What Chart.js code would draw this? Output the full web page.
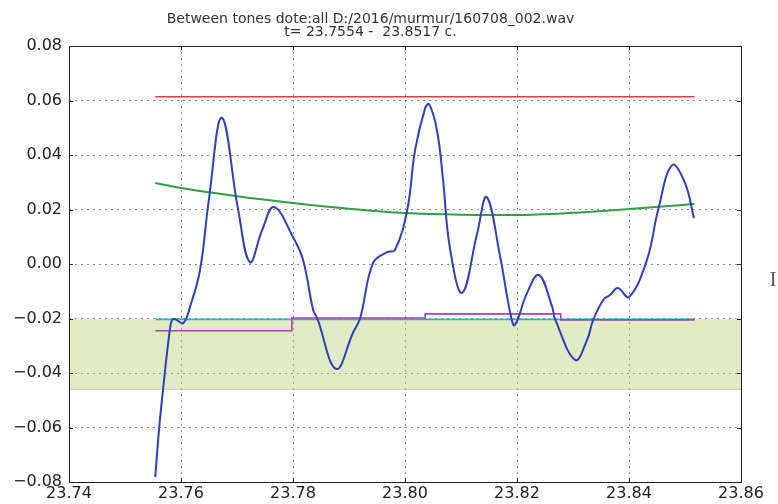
<!DOCTYPE html>
<html><head><meta charset="utf-8">
<script src="https://cdn.jsdelivr.net/npm/chart.js@4.4.1/dist/chart.umd.min.js"></script>
<style>html,body{margin:0;padding:0;background:#fff}#wrap{width:778px;height:504px}</style>
</head><body><div id="wrap"><canvas id="c" width="778" height="504"></canvas></div>
<script>
const titleLines = ["Between tones dote:all D:/2016/murmur/160708_002.wav", "t= 23.7554 -  23.8517 c."];
const xTicks = [23.74, 23.76, 23.78, 23.80, 23.82, 23.84, 23.86];
const xTickLabels = ["23.74", "23.76", "23.78", "23.80", "23.82", "23.84", "23.86"];
const yTicks = [-0.08, -0.06, -0.04, -0.02, 0.00, 0.02, 0.04, 0.06, 0.08];
const yTickLabels = ["\u22120.08", "\u22120.06", "\u22120.04", "\u22120.02", "0.00", "0.02", "0.04", "0.06", "0.08"];

// blue signal
const signalT = [23.7554,23.7561,23.7568,23.7580,23.7584,23.7589,23.7604,23.7616,23.7634,23.7650,23.7673,23.7702,23.7723,23.7745,23.7766,23.7800,23.7818,23.7836,23.7843,23.7877,23.7907,23.7920,23.7943,23.7968,23.7982,23.8004,23.8018,23.8036,23.8043,23.8057,23.8068,23.8080,23.8102,23.8129,23.8146,23.8170,23.8188,23.8196,23.8218,23.8239,23.8263,23.8268,23.8304,23.8325,23.8336,23.8354,23.8366,23.8380,23.8400,23.8432,23.8452,23.8477,23.8500,23.8516];
const signalV = [-0.0782,-0.0602,-0.0459,-0.0242,-0.0206,-0.0202,-0.0217,-0.0158,-0.0022,0.0240,0.0537,0.0200,0.0007,0.0125,0.0209,0.0099,0.0015,-0.0169,-0.0198,-0.0385,-0.0253,-0.0198,0.0004,0.0044,0.0051,0.0198,0.0418,0.0572,0.0587,0.0492,0.0308,0.0062,-0.0106,0.0114,0.0246,0.0026,-0.0180,-0.0224,-0.0106,-0.0040,-0.0158,-0.0202,-0.0352,-0.0279,-0.0206,-0.0132,-0.0114,-0.0088,-0.0121,0.0015,0.0198,0.0363,0.0297,0.0169];

// green trend
const trendT = [23.7554, 23.7600, 23.7700, 23.7800, 23.7900, 23.8000, 23.8100, 23.8200, 23.8300, 23.8400, 23.8517];
const trendV = [0.0297, 0.0279, 0.0249, 0.0224, 0.0203, 0.0187, 0.0181, 0.0180, 0.0188, 0.0202, 0.0220];

// red upper level
const redT = [23.7554, 23.8517];
const redV = [0.0614, 0.0614];

// cyan level
const cyanT = [23.7554, 23.8517];
const cyanV = [-0.0203, -0.0203];

// magenta stepped level
const stepT = [23.7554, 23.7798, 23.8036, 23.8278, 23.8517];
const stepV = [-0.0245, -0.0198, -0.0183, -0.0205, -0.0205];

// shaded band
const bandT = [23.74, 23.86];
const bandTop = [-0.0203, -0.0203];
const bandBottom = [-0.0460, -0.0460];

const pts = (xs, ys) => xs.map((x, i) => ({x: x, y: ys[i]}));

const frameTicks = {
  id: 'frameTicks',
  afterDatasetsDraw(chart) {
    const ctx = chart.ctx, a = chart.chartArea;
    const xs = chart.scales.x, ys = chart.scales.y;
    ctx.save();
    ctx.strokeStyle = '#222';
    ctx.lineWidth = 1;
    ctx.strokeRect(Math.round(a.left) + 0.5, Math.round(a.top) + 0.5, Math.round(a.right - a.left), Math.round(a.bottom - a.top));
    ctx.beginPath();
    xTicks.forEach(v => {
      const p = Math.round(xs.getPixelForValue(v)) + 0.5;
      ctx.moveTo(p, a.bottom); ctx.lineTo(p, a.bottom - 4);
      ctx.moveTo(p, a.top); ctx.lineTo(p, a.top + 4);
    });
    yTicks.forEach(v => {
      const p = Math.round(ys.getPixelForValue(v)) + 0.5;
      ctx.moveTo(a.left, p); ctx.lineTo(a.left + 4, p);
      ctx.moveTo(a.right, p); ctx.lineTo(a.right - 4, p);
    });
    ctx.stroke();
    ctx.fillStyle = '#555';
    ctx.font = '20px "Liberation Serif", serif';
    ctx.textAlign = 'center';
    ctx.textBaseline = 'middle';
    ctx.fillText('I', 773, 281);
    ctx.restore();
  }
};

new Chart(document.getElementById('c'), {
  type: 'scatter',
  data: {
    datasets: [
      {data: pts(signalT, signalV), showLine: true, borderColor: '#2f3fc2', borderWidth: 2, pointRadius: 0, tension: 0.4, order: 0},
      {data: pts(stepT, stepV), showLine: true, stepped: 'before', borderColor: '#b040b0', borderWidth: 1.6, pointRadius: 0, order: 1},
      {data: pts(cyanT, cyanV), showLine: true, borderColor: '#2bb8b3', borderWidth: 1.6, pointRadius: 0, order: 2},
      {data: pts(trendT, trendV), showLine: true, borderColor: '#2fa040', borderWidth: 2, pointRadius: 0, cubicInterpolationMode: 'monotone', order: 3},
      {data: pts(redT, redV), showLine: true, borderColor: '#e0403a', borderWidth: 1.6, pointRadius: 0, order: 4},
      {data: pts(bandT, bandTop), showLine: true, borderWidth: 0, borderColor: 'rgba(0,0,0,0)', pointRadius: 0, fill: '+1', backgroundColor: 'rgba(180,205,112,0.42)', order: 5},
      {data: pts(bandT, bandBottom), showLine: true, borderWidth: 1, borderColor: 'rgba(160,175,140,0.6)', pointRadius: 0, order: 6}
    ]
  },
  options: {
    responsive: false,
    animation: false,
    layout: {padding: {top: 0, right: 37, left: 0, bottom: 0}},
    plugins: {
      legend: {display: false},
      tooltip: {enabled: false},
      title: {display: true, text: titleLines, color: '#333', font: {family: '"DejaVu Sans", sans-serif', size: 14, weight: 'normal', lineHeight: 0.93}, padding: {top: 12.5, bottom: 7.5}}
    },
    scales: {
      x: {
        type: 'linear', min: 23.74, max: 23.86,
        afterBuildTicks: s => { s.ticks = xTicks.map(v => ({value: v})); },
        afterFit: s => { s.height = 22; },
        ticks: {color: '#222', font: {family: '"DejaVu Sans", sans-serif', size: 16}, padding: 2, maxRotation: 0, autoSkip: false,
          callback: (v, i) => xTickLabels[i]},
        grid: {color: 'rgba(60,60,60,0.6)', lineWidth: 1, drawTicks: false},
        border: {display: false, dash: [2, 4]}
      },
      y: {
        type: 'linear', min: -0.08, max: 0.08,
        afterBuildTicks: s => { s.ticks = yTicks.map(v => ({value: v})); },
        afterFit: s => { s.width = 69; },
        ticks: {color: '#222', font: {family: '"DejaVu Sans", sans-serif', size: 16}, padding: 7, autoSkip: false,
          callback: (v, i) => yTickLabels[i]},
        grid: {color: 'rgba(60,60,60,0.6)', lineWidth: 1, drawTicks: false},
        border: {display: false, dash: [2, 4]}
      }
    }
  },
  plugins: [frameTicks]
});
</script>
</body></html>
